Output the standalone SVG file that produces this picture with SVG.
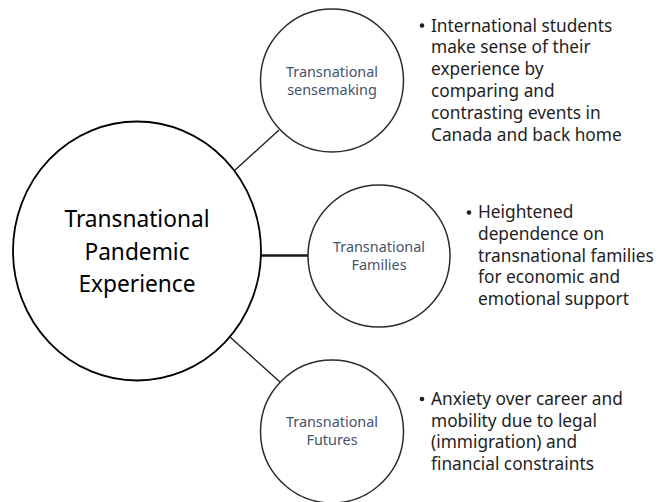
<svg xmlns="http://www.w3.org/2000/svg" width="666" height="502" viewBox="0 0 666 502">
  <style>
    .hub { fill: #fff; stroke: #000; stroke-width: 1.8; }
    .sat { fill: #fff; stroke: #2b2b2b; stroke-width: 1.5; }
    .link { stroke: #1a1a1a; fill: none; }
    .hub-label { font-family: "Noto Sans", "Open Sans", sans-serif; font-size: 22.7px; fill: #000; text-anchor: middle; }
    .sat-label { font-family: "Noto Sans", "Open Sans", sans-serif; font-size: 14.4px; fill: #44546a; text-anchor: middle; }
    .note { font-family: "Noto Sans", "Open Sans", sans-serif; font-size: 17.3px; fill: #1e1e1e; }
    .dot { fill: #1e1e1e; }
  </style>
  <rect width="666" height="502" fill="#fff"/>

  <!-- connectors from the hub to each satellite -->
  <g id="connectors">
    <line class="link" x1="234" y1="171" x2="279" y2="130" stroke-width="1.3"/>
    <line class="link" x1="261" y1="255.5" x2="308" y2="255.5" stroke-width="2.4"/>
    <line class="link" x1="230" y1="337" x2="280" y2="382" stroke-width="1.3"/>
  </g>

  <!-- central concept -->
  <g id="hub">
    <ellipse class="hub" cx="137" cy="251" rx="124" ry="129.5"/>
    <text class="hub-label" x="137" y="227">Transnational</text>
    <text class="hub-label" x="137" y="260">Pandemic</text>
    <text class="hub-label" x="137" y="292">Experience</text>
  </g>

  <!-- satellite: sensemaking -->
  <g id="sensemaking">
    <circle class="sat" cx="332" cy="80.5" r="71.5"/>
    <text class="sat-label" x="332" y="77">Transnational</text>
    <text class="sat-label" x="332" y="94.5">sensemaking</text>
  </g>

  <!-- satellite: families -->
  <g id="families">
    <circle class="sat" cx="379" cy="256" r="71"/>
    <text class="sat-label" x="379" y="251.5">Transnational</text>
    <text class="sat-label" x="379" y="270">Families</text>
  </g>

  <!-- satellite: futures -->
  <g id="futures">
    <circle class="sat" cx="332" cy="431.5" r="71.5"/>
    <text class="sat-label" x="332" y="427">Transnational</text>
    <text class="sat-label" x="332" y="445">Futures</text>
  </g>

  <!-- bullet notes -->
  <g id="note-sensemaking">
    <circle class="dot" cx="422" cy="25.5" r="2.3"/>
    <text class="note" x="431" y="31.7">International students</text>
    <text class="note" x="431" y="53.3">make sense of their</text>
    <text class="note" x="431" y="75">experience by</text>
    <text class="note" x="431" y="96.7">comparing and</text>
    <text class="note" x="431" y="118.8">contrasting events in</text>
    <text class="note" x="431" y="141">Canada and back home</text>
  </g>

  <g id="note-families">
    <circle class="dot" cx="469" cy="212.5" r="2.3"/>
    <text class="note" x="478" y="218.3">Heightened</text>
    <text class="note" x="478" y="240">dependence on</text>
    <text class="note" x="478" y="261.7">transnational families</text>
    <text class="note" x="478" y="283.3">for economic and</text>
    <text class="note" x="478" y="305">emotional support</text>
  </g>

  <g id="note-futures">
    <circle class="dot" cx="422" cy="399" r="2.3"/>
    <text class="note" x="431" y="405">Anxiety over career and</text>
    <text class="note" x="431" y="426.7">mobility due to legal</text>
    <text class="note" x="431" y="448.3">(immigration) and</text>
    <text class="note" x="431" y="470">financial constraints</text>
  </g>
</svg>
